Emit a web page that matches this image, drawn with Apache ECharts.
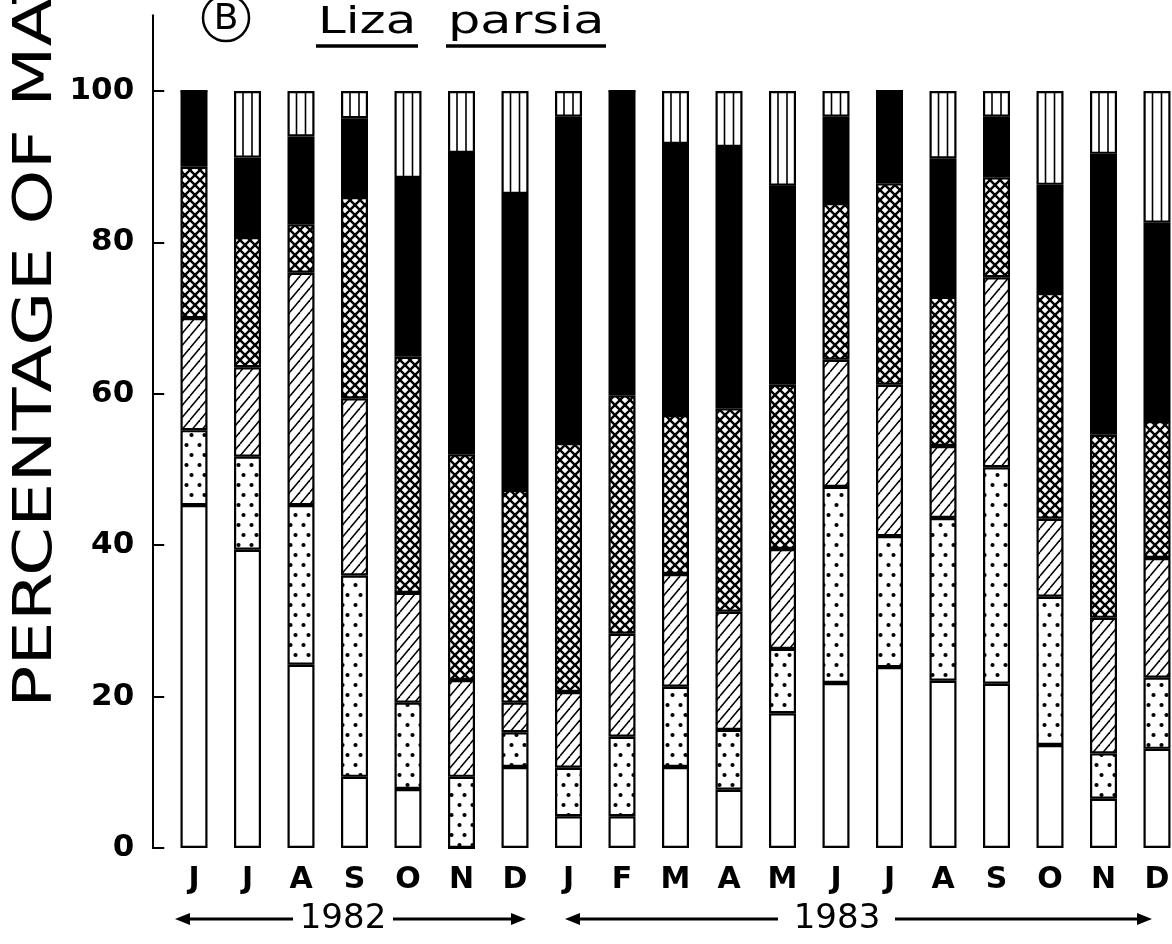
<!DOCTYPE html>
<html>
<head>
<meta charset="utf-8">
<script src="https://cdn.jsdelivr.net/npm/echarts@6/dist/echarts.min.js"></script>
<style>
html,body{margin:0;padding:0;background:#fff;overflow:hidden;}
#chart{width:1200px;height:944px;}
</style>
</head>
<body>
<div id="chart"></div>
<script>
// ---- data ----
const months = ['J','J','A','S','O','N','D','J','F','M','A','M','J','J','A','S','O','N','D'];
const yTicks = [0, 20, 40, 60, 80, 100];
const blankPct    = [45.3, 39.4, 24.2, 9.4, 7.8, 0, 10.7, 4.2, 4.2, 10.7, 7.7, 17.8, 21.8, 23.9, 22.1, 21.7, 13.6, 6.5, 13.1];
const dottedPct   = [9.9, 12.3, 21.1, 26.6, 11.4, 9.4, 4.6, 6.4, 10.5, 10.6, 7.9, 8.5, 25.9, 17.3, 21.5, 28.6, 19.6, 6.0, 9.4];
const hatchedPct  = [14.8, 11.8, 30.7, 23.4, 14.5, 12.8, 3.9, 10.0, 13.6, 14.9, 15.6, 13.2, 16.8, 20.0, 9.5, 25.1, 10.3, 17.9, 15.8];
const crossPct    = [20.0, 17.2, 6.4, 26.6, 31.2, 29.8, 28.1, 32.9, 31.5, 21.0, 26.9, 21.7, 20.7, 26.6, 19.7, 13.2, 29.8, 24.2, 18.1];
const blackPct    = [10.0, 10.5, 11.6, 10.4, 23.6, 39.8, 39.1, 43.1, 40.2, 35.8, 34.5, 26.3, 11.4, 12.2, 18.3, 8.0, 14.3, 37.1, 26.2];
const verticalPct = [0, 8.8, 6.0, 3.6, 11.5, 8.2, 13.6, 3.4, 0, 7.0, 7.4, 12.5, 3.4, 0, 8.9, 3.4, 12.4, 8.3, 17.4];
const years = ['1982', '1983'];

// ---- patterns ----
function tile(w, h, draw) {
  const c = document.createElement('canvas');
  c.width = w; c.height = h;
  const ctx = c.getContext('2d');
  ctx.fillStyle = '#fff';
  ctx.fillRect(0, 0, w, h);
  ctx.strokeStyle = '#000';
  ctx.fillStyle = '#000';
  draw(ctx);
  return { image: c, repeat: 'repeat' };
}
const patDots = tile(13, 20, ctx => {
  [[4.5, 5], [9.5, 15]].forEach(p => { ctx.beginPath(); ctx.arc(p[0], p[1], 2.1, 0, Math.PI * 2); ctx.fill(); });
});
const patHatch = tile(10, 12, ctx => {
  ctx.lineWidth = 1.5;
  [-10, 0, 10].forEach(dx => { ctx.beginPath(); ctx.moveTo(dx, 12); ctx.lineTo(dx + 10, 0); ctx.stroke(); });
});
const patCross = tile(10, 10, ctx => {
  ctx.lineWidth = 2.4;
  [-10, 0, 10].forEach(dx => {
    ctx.beginPath(); ctx.moveTo(dx - 1, -1); ctx.lineTo(dx + 11, 11); ctx.stroke();
    ctx.beginPath(); ctx.moveTo(dx + 11, -1); ctx.lineTo(dx - 1, 11); ctx.stroke();
  });
});
const patVert = tile(107, 4, ctx => {
  ctx.lineWidth = 1.6;
  [82.5, 91.5, 29, 38].forEach(x => { ctx.beginPath(); ctx.moveTo(x, 0); ctx.lineTo(x, 4); ctx.stroke(); });
});

const seriesDefs = [
  { name: 'blank', data: blankPct, color: '#ffffff' },
  { name: 'dotted', data: dottedPct, color: patDots },
  { name: 'hatched', data: hatchedPct, color: patHatch },
  { name: 'crosshatched', data: crossPct, color: patCross },
  { name: 'black', data: blackPct, color: '#000000' },
  { name: 'vertical', data: verticalPct, color: patVert }
];

const chart = echarts.init(document.getElementById('chart'), null, { renderer: 'canvas' });
const FONT = 'DejaVu Sans';
const yArrow = 919;

function arrowHead(tipX, dir) {
  return { type: 'polygon', shape: { points: [[tipX, yArrow], [tipX - dir * 15, yArrow - 6], [tipX - dir * 15, yArrow + 6]] }, style: { fill: '#000' } };
}
function hline(x1, x2) {
  return { type: 'line', shape: { x1: x1, y1: yArrow, x2: x2, y2: yArrow }, style: { stroke: '#000', lineWidth: 3 } };
}

chart.setOption({
  animation: false,
  backgroundColor: '#fff',
  grid: { left: 167.25, top: 15.3, width: 1016.5, height: 832.7, containLabel: false, outerBoundsMode: 'none' },
  xAxis: {
    type: 'category',
    data: months,
    axisLine: { show: false },
    axisTick: { show: false },
    axisLabel: { color: '#000', fontFamily: FONT, fontSize: 30, fontWeight: 'bold', margin: 17 }
  },
  yAxis: {
    type: 'value',
    min: 0, max: 110,
    offset: 15,
    splitLine: { show: false },
    axisLine: { show: true, lineStyle: { color: '#000', width: 2 } },
    axisTick: { show: true, inside: true, length: 12, lineStyle: { color: '#000', width: 2 }, customValues: yTicks },
    axisLabel: { color: '#000', fontFamily: FONT, fontSize: 31, fontWeight: 'bold', margin: 18, customValues: yTicks }
  },
  series: seriesDefs.map(s => ({
    name: s.name,
    type: 'bar',
    stack: 'total',
    barWidth: 27,
    data: s.data,
    itemStyle: { color: s.color, borderColor: '#000', borderWidth: 2.2 }
  })),
  graphic: [
    { type: 'text', x: 37, y: 708, rotation: Math.PI / 2, scaleX: 1.3,
      style: { text: 'PERCENTAGE OF MATURITY STAGES', fontFamily: FONT, fontSize: 54, fill: '#000', align: 'left', verticalAlign: 'middle' } },
    { type: 'circle', shape: { cx: 226, cy: 18, r: 23 }, style: { fill: 'none', stroke: '#000', lineWidth: 2.5 } },
    { type: 'text', x: 226, y: 20, style: { text: 'B', fontFamily: FONT, fontSize: 36, fill: '#000', align: 'center', verticalAlign: 'middle' } },
    { type: 'text', x: 318, y: 23, scaleX: 1.31, style: { text: 'Liza', fontFamily: FONT, fontSize: 38, fill: '#000', align: 'left', verticalAlign: 'middle' } },
    { type: 'text', x: 448, y: 23, scaleX: 1.34, style: { text: 'parsia', fontFamily: FONT, fontSize: 38, fill: '#000', align: 'left', verticalAlign: 'middle' } },
    { type: 'line', shape: { x1: 316, y1: 46, x2: 418, y2: 46 }, style: { stroke: '#000', lineWidth: 3.5 } },
    { type: 'line', shape: { x1: 446, y1: 46, x2: 606, y2: 46 }, style: { stroke: '#000', lineWidth: 3.5 } },
    hline(180, 293), arrowHead(175, -1),
    { type: 'text', x: 343, y: yArrow, style: { text: years[0], fontFamily: FONT, fontSize: 34, fill: '#000', align: 'center', verticalAlign: 'middle' } },
    hline(393, 520), arrowHead(526, 1),
    hline(570, 778), arrowHead(565, -1),
    { type: 'text', x: 837, y: yArrow, style: { text: years[1], fontFamily: FONT, fontSize: 34, fill: '#000', align: 'center', verticalAlign: 'middle' } },
    hline(895, 1146), arrowHead(1152, 1)
  ]
});
</script>
</body>
</html>
